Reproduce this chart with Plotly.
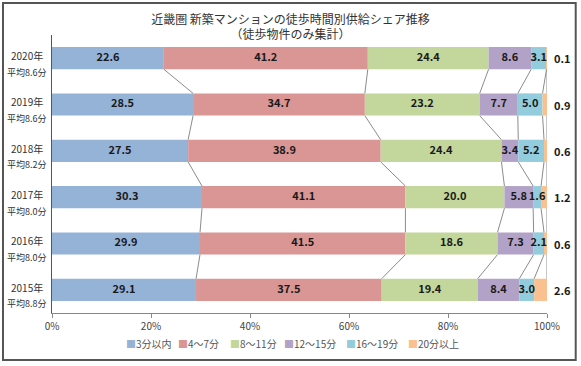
import plotly.graph_objects as go

years = ["2020年", "2019年", "2018年", "2017年", "2016年", "2015年"]
averages = ["平均8.6分", "平均8.6分", "平均8.2分", "平均8.0分", "平均8.0分", "平均8.8分"]
series_names = ["3分以内", "4～7分", "8～11分", "12～15分", "16～19分", "20分以上"]
s1 = [22.6, 28.5, 27.5, 30.3, 29.9, 29.1]
s2 = [41.2, 34.7, 38.9, 41.1, 41.5, 37.5]
s3 = [24.4, 23.2, 24.4, 20.0, 18.6, 19.4]
s4 = [8.6, 7.7, 3.4, 5.8, 7.3, 8.4]
s5 = [3.1, 5.0, 5.2, 1.6, 2.1, 3.0]
s6 = [0.1, 0.9, 0.6, 1.2, 0.6, 2.6]
colors = ["#95B3D7", "#D99694", "#C3D69B", "#B3A2C7", "#93CDDD", "#FAC090"]
xticks = [0, 20, 40, 60, 80, 100]

series = [s1, s2, s3, s4, s5, s6]
ypos = list(range(len(years)))
BW = 0.48
FONT = "Noto Sans CJK JP"
LABEL_FONT = dict(family=FONT, size=11, color="#1a1a1a", weight="bold")

fig = go.Figure()

# cumulative starts
cum = [[0.0] * len(years)]
for s in series:
    cum.append([a + b for a, b in zip(cum[-1], s)])

# connector (series) lines
for k in range(1, len(cum)):
    xs, ys = [], []
    for i in range(len(years) - 1):
        xs += [cum[k][i], cum[k][i + 1], None]
        ys += [ypos[i] + BW / 2, ypos[i + 1] - BW / 2, None]
    fig.add_trace(go.Scatter(x=xs, y=ys, mode="lines", line=dict(color="#8c8c8c", width=1),
                             showlegend=False, hoverinfo="skip"))

for idx, (name, s, c) in enumerate(zip(series_names, series, colors)):
    fig.add_trace(go.Bar(y=ypos, x=s, base=cum[idx], orientation="h", name=name,
                         marker=dict(color=c, line=dict(width=0)), width=BW, showlegend=False))

# value labels inside bars
for idx, s in enumerate(series[:5]):
    xs = [cum[idx][i] + s[i] / 2 for i in range(len(years))]
    fig.add_trace(go.Scatter(x=xs, y=ypos, mode="text", text=[f"{v:.1f}" for v in s],
                             textfont=LABEL_FONT, showlegend=False, hoverinfo="skip",
                             cliponaxis=False))
# last series labels outside, right of the bar ends
for i, v in enumerate(s6):
    fig.add_annotation(x=100, xref="x", y=ypos[i], yref="y", text=f"{v:.1f}", xshift=15,
                       xanchor="center", showarrow=False, font=LABEL_FONT)

# y labels
for i, (yr, av) in enumerate(zip(years, averages)):
    fig.add_annotation(x=-0.05, xref="paper", y=ypos[i] - 0.06, yref="y", text=yr,
                       xanchor="center", showarrow=False,
                       font=dict(family=FONT, size=10, color="#333333"))
    fig.add_annotation(x=-0.05, xref="paper", y=ypos[i] + 0.30, yref="y", text=av,
                       xanchor="center", showarrow=False,
                       font=dict(family=FONT, size=9, color="#333333"))

# legend (manual, compact)
leg_x = [128, 180, 232, 286, 348, 410]
for px, name, c in zip(leg_x, series_names, colors):
    fig.add_annotation(x=(px - 4 - 52) / 495, xref="paper", y=-0.108, yref="paper",
                       xanchor="left", yanchor="middle", showarrow=False,
                       text=f'<span style="color:{c}">■</span>{name}',
                       font=dict(family=FONT, size=10, color="#555555"))

# frame
fig.add_shape(type="rect", xref="paper", yref="paper", x0=-0.099, x1=1.058, y0=-0.169, y1=1.115,
              line=dict(color="#555555", width=2))

fig.update_layout(
    width=581, height=366,
    margin=dict(l=52, r=34, t=35, b=53),
    paper_bgcolor="white", plot_bgcolor="white",
    barmode="overlay",
    title=dict(text="近畿圏 新築マンションの徒歩時間別供給シェア推移<br>（徒歩物件のみ集計）",
               x=0.5, xanchor="center", y=0.935, yanchor="top",
               font=dict(family=FONT, size=12, color="#333333")),
    xaxis=dict(range=[0, 100], tickvals=xticks, ticktext=[f"{v}%" for v in xticks],
               showgrid=False, zeroline=False, showline=True, linecolor="#888888",
               ticks="outside", ticklen=4, tickcolor="#888888",
               tickfont=dict(family=FONT, size=10, color="#444444")),
    yaxis=dict(range=[5.5, -0.5], showticklabels=False, showgrid=False, zeroline=False,
               showline=True, linecolor="#555555", ticks=""),
    showlegend=False,
)

fig.write_html("out.html", config={"displayModeBar": False},
               post_script="document.body.style.margin='0';")
